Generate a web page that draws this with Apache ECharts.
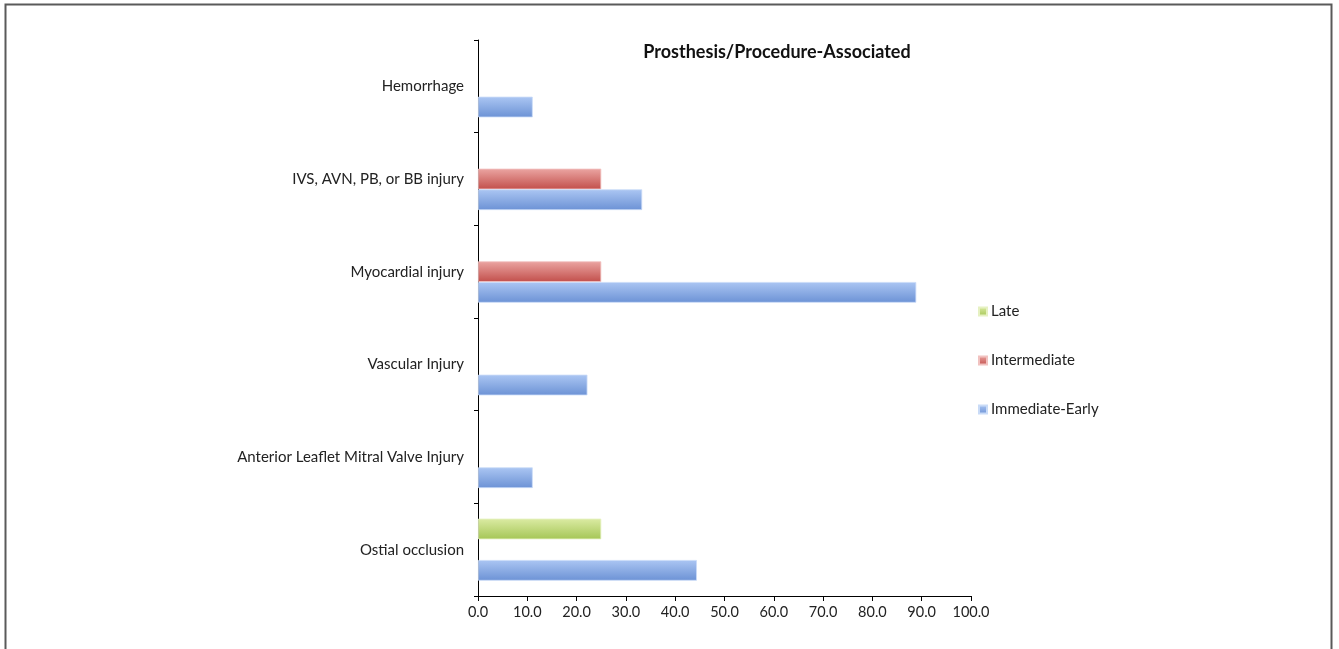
<!DOCTYPE html>
<html>
<head>
<meta charset="utf-8">
<script src="https://cdn.jsdelivr.net/npm/echarts@6/dist/echarts.min.js"></script>
<style>
  html, body { margin: 0; padding: 0; background: #fff; }
  #chart { width: 1339px; height: 649px; }
</style>
</head>
<body>
<div id="chart"></div>
<script>
// Categories listed bottom to top along the category axis
const categories = [
  'Ostial occlusion',
  'Anterior Leaflet Mitral Valve Injury',
  'Vascular Injury',
  'Myocardial injury',
  'IVS, AVN, PB, or BB injury',
  'Hemorrhage'
];
const immediateEarly = [44.4, 11.1, 22.2, 88.9, 33.3, 11.1];
const intermediate   = [null, null, null, 25.0, 25.0, null];
const late           = [25.0, null, null, null, null, null];
const xTicks = { min: 0, max: 100, interval: 10 };

const FONT = 'Lato';

function grad(top, bottom) {
  return new echarts.graphic.LinearGradient(0, 0, 0, 1, [
    { offset: 0, color: top },
    { offset: 1, color: bottom }
  ]);
}

const chart = echarts.init(document.getElementById('chart'), null, { renderer: 'canvas' });

// Series are declared top slot first so Immediate-Early sits at the bottom of each band
chart.setOption({
  animation: false,
  backgroundColor: '#fff',
  title: {
    text: 'Prosthesis/Procedure-Associated',
    left: 772,
    textAlign: 'center',
    top: 38,
    textStyle: { fontFamily: FONT, fontSize: 18, fontWeight: 'bold', color: '#111' }
  },
  legend: {
    orient: 'vertical',
    left: 978,
    top: 304,
    padding: 0,
    itemWidth: 8,
    itemHeight: 8,
    itemGap: 34,
    icon: 'rect',
    data: ['Late', 'Intermediate', 'Immediate-Early'],
    textStyle: { fontFamily: FONT, fontSize: 15, color: '#222', padding: [0, 0, 0, -1] }
  },
  grid: { left: 478, top: 40, width: 493, height: 556, containLabel: false },
  xAxis: {
    type: 'value',
    min: xTicks.min,
    max: xTicks.max,
    interval: xTicks.interval,
    axisLine: { show: true, lineStyle: { color: '#000', width: 1 } },
    axisTick: { show: true, length: 5, lineStyle: { color: '#000' } },
    splitLine: { show: false },
    axisLabel: {
      fontFamily: FONT, fontSize: 14.5, color: '#222', margin: 9,
      formatter: v => v.toFixed(1)
    }
  },
  yAxis: {
    type: 'category',
    data: categories,
    axisLine: { show: true, lineStyle: { color: '#000', width: 1 } },
    axisTick: { show: true, length: 4, alignWithLabel: false, lineStyle: { color: '#000' } },
    axisLabel: { fontFamily: FONT, fontSize: 15, color: '#222', margin: 14, padding: [3, 0, 0, 0] }
  },
  series: [
    {
      name: 'Late', type: 'bar', data: late,
      barGap: '0%', barCategoryGap: '33%',
      itemStyle: { color: grad('#dbeba3', '#a5c656'), borderColor: '#e6f1c2', borderWidth: 0.8 }
    },
    {
      name: 'Intermediate', type: 'bar', data: intermediate,
      barGap: '0%', barCategoryGap: '33%',
      itemStyle: { color: grad('#eba5a2', '#c24f4b'), borderColor: '#f1c2c0', borderWidth: 0.8 }
    },
    {
      name: 'Immediate-Early', type: 'bar', data: immediateEarly,
      barGap: '0%', barCategoryGap: '33%',
      itemStyle: { color: grad('#abc6f3', '#6c92d5'), borderColor: '#c9dbf7', borderWidth: 0.8 }
    }
  ],
  graphic: [{
    type: 'rect',
    shape: { x: 5.5, y: 4.5, width: 1326, height: 700 },
    style: { fill: 'none', stroke: '#5a5a5a', lineWidth: 2 },
    silent: true
  }]
});
</script>
</body>
</html>
